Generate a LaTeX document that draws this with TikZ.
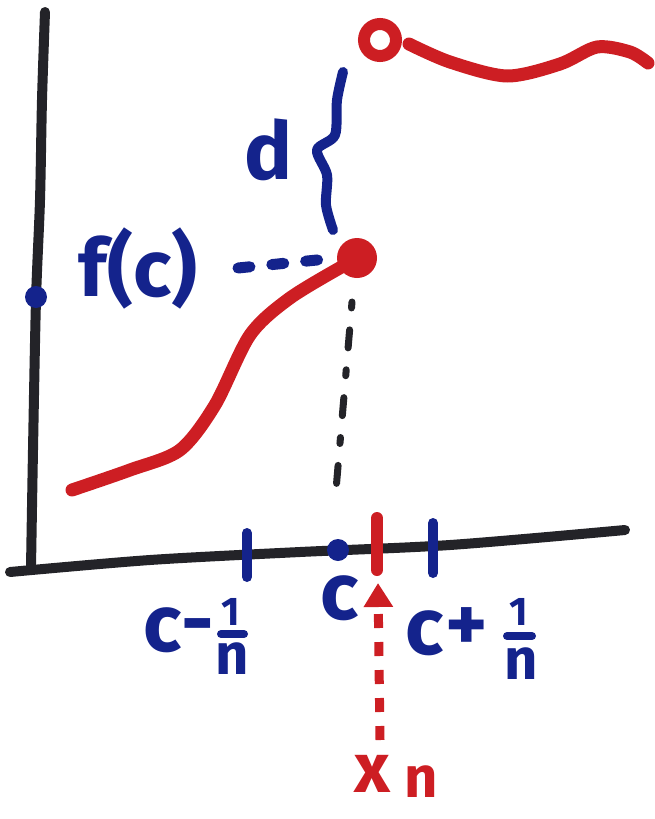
\documentclass[tikz,border=0pt]{standalone}
\usepackage{fontspec}
\setmainfont{Fira Sans}
\usetikzlibrary{arrows.meta,calc}
\definecolor{mblue}{RGB}{20,35,140}
\definecolor{mred}{RGB}{205,30,35}
\definecolor{mblack}{RGB}{35,35,40}
\tikzset{
  axisline/.style={draw=mblack,line width=10pt,line cap=round,line join=round},
  redline/.style={draw=mred,line width=13pt,line cap=round,line join=round},
  blueline/.style={draw=mblue,line width=10pt,line cap=round,line join=round},
  bluetxt/.style={text=mblue,font=\bfseries\fontsize{80}{80}\selectfont,inner sep=0pt},
  bluefrac/.style={text=mblue,font=\bfseries\fontsize{58}{58}\selectfont,inner sep=0pt},
  bluesmall/.style={text=mblue,font=\bfseries\fontsize{40}{40}\selectfont,inner sep=0pt},
  redtxt/.style={text=mred,font=\bfseries\fontsize{70}{70}\selectfont,inner sep=0pt},
  redsub/.style={text=mred,font=\bfseries\fontsize{58}{58}\selectfont,inner sep=0pt},
}
\begin{document}
\begin{tikzpicture}[x=1pt,y=-1pt]
\useasboundingbox (0,0) rectangle (654,819);
% axes
\draw[axisline] plot[smooth] coordinates {(45,12) (42,100) (40,200) (36,300) (33,450) (31,568)};
\draw[axisline] plot[smooth] coordinates {(10,572) (150,560) (300,552) (450,545) (625,530)};
% f(c) point and label
\fill[mblue] (36,297) circle (11);
\node[bluetxt] (fc) at (138,268) {f(c)};
\coordinate (fcend) at (238,268);
% red filled dot and curve
\node[circle,fill=mred,minimum size=40pt,inner sep=0pt] (dot) at (357,258) {};
\draw[redline] plot[smooth] coordinates {(72,490) (130,470) (180,450) (215,405) (250,335) (290,298) (345,265)};
\draw[mblue,line width=11pt,dash pattern=on 12pt off 22pt,line cap=round] (fcend) -- (dot.west);
% open circle and upper curve
\node[circle,draw=mred,line width=12pt,minimum size=32pt,inner sep=0pt] (open) at (380,40) {};
\draw[redline] plot[smooth] coordinates {(409,44) (450,62) (507,76) (560,64) (597,47) (630,52) (648,63)};
% brace d
\draw[blueline] plot[smooth] coordinates {(343,72) (337,100) (335,135) (317,150) (327,175) (326,205) (333,230)};
\node[bluetxt] (d) at (268,150) {d};
% vertical dash-dot line
\coordinate (vtop) at (352,302);
\coordinate (vbot) at (336,490);
\draw[mblack,line width=7pt,line cap=round,dash pattern=on 6pt off 22pt on 18pt off 22pt] (vtop) -- (vbot);
% ticks
\coordinate (t1) at (247,555);
\coordinate (t2) at (338,550);
\coordinate (t3) at (377,548);
\coordinate (t4) at (433,545);
\draw[blueline] ($(t1)+(0,-22)$) -- ($(t1)+(0,22)$);
\draw[blueline] ($(t4)+(0,-22)$) -- ($(t4)+(0,28)$);
\fill[mblue] (t2) circle (11);
\draw[redline,line width=12pt] ($(t3)+(0,-30)$) -- ($(t3)+(0,22)$);
% labels: c - 1/n
\node[bluetxt] (cm) at (163,630) {c};
\node[bluetxt] (minus) at (198,634) {-};
\node[bluesmall] (n1) at (231,612) {1};
\node[bluefrac] (n1d) at (232,659) {n};
\draw[blueline,line width=8pt] (221,634) -- (244,634);
% c
\node[bluetxt] (c) at (340,598) {c};
% c + 1/n
\node[bluetxt] (cp) at (425,633) {c};
\node[bluetxt] (plus) at (467,630) {+};
\node[bluesmall] (n2) at (519,612) {1};
\node[bluefrac] (n2d) at (521,664) {n};
\draw[blueline,line width=8pt] (507,636) -- (532,636);
% x_n
\node[redtxt] (xnx) at (372,774) {x};
\node[redsub] (xnn) at (421,782) {n};
% red dashed arrow
\coordinate (atip) at (378,583);
\coordinate (abot) at (380,740);
\draw[mred,line width=9pt,dash pattern=on 14pt off 14pt,-{Triangle[length=24pt,width=28pt]}] (abot) -- (atip);
\end{tikzpicture}
\end{document}
